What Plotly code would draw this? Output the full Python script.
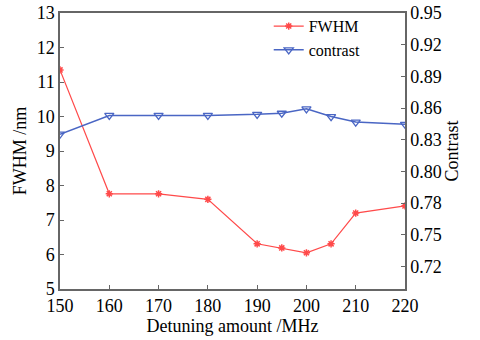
import plotly.graph_objects as go

detuning = [150, 160, 170, 180, 190, 195, 200, 205, 210, 220]
fwhm = [11.35, 7.76, 7.76, 7.60, 6.31, 6.19, 6.05, 6.31, 7.20, 7.41]
contrast = [0.840, 0.857, 0.857, 0.857, 0.858, 0.859, 0.863, 0.856, 0.851, 0.849]

x_ticks = [150, 160, 170, 180, 190, 200, 210, 220]
y1_ticks = [5, 6, 7, 8, 9, 10, 11, 12, 13]
y2_tickvals = [0.95 - i * 0.02875 for i in range(9)]
y2_ticktext = ["0.95", "0.92", "0.89", "0.86", "0.83", "0.80", "0.78", "0.75", "0.72"]

RED = "#ff4a4a"
BLUE = "#4a66c4"
AX = "#666666"
FONT = "Liberation Serif"
TICKFONT = dict(family=FONT, size=18, color="black")
TITLEFONT = dict(family=FONT, size=18, color="black")

fig = go.Figure()
fig.add_trace(go.Scatter(
    x=detuning, y=fwhm, name="FWHM", mode="lines+markers",
    line=dict(color=RED, width=1.2),
    marker=dict(symbol="asterisk-open", size=6, color=RED, line=dict(color=RED, width=1.5)),
))
fig.add_trace(go.Scatter(
    x=detuning, y=contrast, name="contrast", mode="lines+markers", yaxis="y2",
    line=dict(color=BLUE, width=1.5),
    marker=dict(symbol="triangle-down-open", size=8, color=BLUE, line=dict(color=BLUE, width=1.3)),
))

fig.update_layout(
    width=480, height=340,
    margin=dict(l=60, r=75, t=13, b=51, autoexpand=False),
    paper_bgcolor="white", plot_bgcolor="white",
    font=dict(family=FONT, size=18, color="black"),
    showlegend=True,
    legend=dict(x=0.605, y=1.014, xanchor="left", yanchor="top",
                bgcolor="rgba(0,0,0,0)", font=dict(family=FONT, size=16, color="black"),
                tracegroupgap=0, itemwidth=30),
    xaxis=dict(range=[150, 220], tickvals=x_ticks, ticks="inside", ticklen=4,
               tickcolor=AX, showline=True, linecolor=AX, linewidth=1.5, mirror=True,
               showgrid=False, zeroline=False, tickfont=TICKFONT,
               title=dict(text="Detuning amount /MHz", standoff=0, font=TITLEFONT)),
    yaxis=dict(range=[5, 13], tickvals=y1_ticks, ticks="inside", ticklen=4,
               tickcolor=AX, showline=True, linecolor=AX, linewidth=1.5,
               showgrid=False, zeroline=False, tickfont=TICKFONT,
               title=dict(text="FWHM /nm", standoff=5, font=TITLEFONT)),
    yaxis2=dict(range=[0.6995, 0.95], overlaying="y", side="right",
                tickvals=y2_tickvals, ticktext=y2_ticktext, ticks="inside", ticklen=4,
                tickcolor=AX, showline=True, linecolor=AX, linewidth=1.5,
                showgrid=False, zeroline=False, tickfont=TICKFONT,
                title=dict(text="Contrast", standoff=4, font=TITLEFONT)),
)

fig.write_html("out.html", config={"displayModeBar": False},
               post_script="document.body.style.margin='0';")
